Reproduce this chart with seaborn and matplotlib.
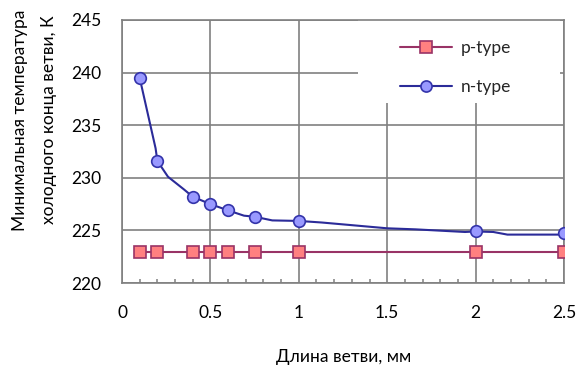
import matplotlib
matplotlib.use("Agg")
import matplotlib.pyplot as plt
from matplotlib.lines import Line2D
from matplotlib.patches import Rectangle
from matplotlib.ticker import MultipleLocator
import seaborn as sns
import pandas as pd

# Data
x_pts = [0.1, 0.2, 0.4, 0.5, 0.6, 0.75, 1.0, 2.0, 2.5]
p_type = [222.9, 222.9, 222.9, 222.9, 222.9, 222.9, 222.9, 222.9, 222.9]
n_type = [239.5, 231.6, 228.2, 227.5, 226.9, 226.3, 225.9, 224.9, 224.8]
# n-type connecting curve vertices
n_curve_x = [0.1, 0.19, 0.2, 0.26, 0.35, 0.4, 0.5, 0.6, 0.69, 0.75, 0.85, 1.0,
             1.13, 1.5, 1.66, 1.94, 2.0, 2.1, 2.18, 2.5]
n_curve_y = [239.5, 232.8, 231.6, 230.1, 228.9, 228.2, 227.5, 226.9, 226.4, 226.3,
             225.95, 225.9, 225.75, 225.2, 225.1, 224.85, 224.9, 224.85, 224.6, 224.6]
x_ticks = [0, 0.5, 1, 1.5, 2, 2.5]
x_tick_labels = ["0", "0.5", "1", "1.5", "2", "2.5"]
y_ticks = [220, 225, 230, 235, 240, 245]
series_names = ["p-type", "n-type"]
x_label = "Длина ветви, мм"
y_label = "Минимальная температура\nхолодного конца ветви, К"

sns.set_theme(style="white")
plt.rcParams['font.family'] = ['Lato', 'DejaVu Sans']

P_LINE = "#993366"
P_FACE = "#ff8080"
N_LINE = "#2b2b99"
N_FACE = "#9999ff"
N_EDGE = "#3333aa"
GRID = "#808080"
FS = 12.5

fig = plt.figure(figsize=(5.8, 3.65), dpi=100)
ax = fig.add_axes([122 / 580, 1 - 283 / 365, 442 / 580, 263 / 365])

df_p = pd.DataFrame({"x": x_pts, "y": p_type})
df_n = pd.DataFrame({"x": x_pts, "y": n_type})
df_c = pd.DataFrame({"x": n_curve_x, "y": n_curve_y})

sns.lineplot(data=df_p, x="x", y="y", ax=ax, color=P_LINE, linewidth=1.5,
             marker="s", markersize=8, markerfacecolor=P_FACE,
             markeredgecolor=P_LINE, markeredgewidth=1.2, zorder=3)
sns.lineplot(data=df_c, x="x", y="y", ax=ax, color=N_LINE, linewidth=1.5,
             sort=False, zorder=3)
sns.scatterplot(data=df_n, x="x", y="y", ax=ax, color=N_FACE, s=70,
                edgecolor=N_EDGE, linewidth=1.2, zorder=4)

ax.set_xlim(0, 2.5)
ax.set_ylim(220, 245)
ax.set_xticks(x_ticks)
ax.set_xticklabels(x_tick_labels)
ax.set_yticks(y_ticks)
ax.xaxis.set_minor_locator(MultipleLocator(0.1))
ax.grid(True, which="major", color=GRID, linewidth=1.2)
ax.set_axisbelow(True)
for s in ax.spines.values():
    s.set_color(GRID)
    s.set_linewidth(1.2)

ax.tick_params(axis="x", which="major", direction="out", length=5, width=1.2,
               color=GRID, labelsize=FS, pad=11, labelcolor="black")
ax.tick_params(axis="x", which="minor", direction="in", length=3, width=1.1,
               color=GRID, bottom=True)
ax.tick_params(axis="y", which="major", direction="out", length=4, width=1.2,
               color=GRID, labelsize=FS, pad=11, labelcolor="black")

ax.set_xlabel("")
ax.set_ylabel("")
fig.text(343.5 / 580, 1 - 357 / 365, x_label, fontsize=FS, ha="center",
         va="center", color="black")
fig.text(35 / 580, 1 - 120 / 365, y_label, fontsize=FS, ha="center",
         va="center", rotation=90, multialignment="center", linespacing=2.0,
         color="black")

# legend background (covers gridlines)
ax.add_patch(Rectangle((0.534, 0.684), 0.457, 0.32, transform=ax.transAxes,
                       facecolor="white", edgecolor="none", zorder=2.5,
                       clip_on=False))

handles = [
    Line2D([0], [0], color=P_LINE, linewidth=1.5, marker="s", markersize=8,
           markerfacecolor=P_FACE, markeredgecolor=P_LINE, markeredgewidth=1.2),
    Line2D([0], [0], color=N_LINE, linewidth=1.5, marker="o", markersize=8,
           markerfacecolor=N_FACE, markeredgecolor=N_EDGE, markeredgewidth=1.2),
]
leg = ax.legend(handles, series_names, loc="upper left",
                bbox_to_anchor=((400 - 122) / 442, 1 - (40 - 20) / 263),
                frameon=False, fontsize=FS, handlelength=3.0, borderpad=0.0,
                labelspacing=1.35, borderaxespad=0.0, handletextpad=0.5)
leg.set_zorder(5)

fig.savefig("out.png", dpi=100)
